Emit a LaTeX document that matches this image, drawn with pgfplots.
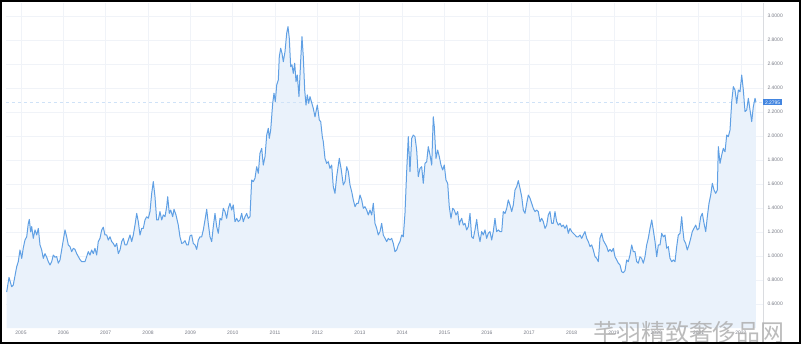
\documentclass[border=0pt]{standalone}
\usepackage{fontspec}
\setmainfont{Liberation Sans}
\newfontfamily\cjk{Noto Sans CJK SC}
\usepackage{pgfplots}
\usepackage{pgfplotstable}
\pgfplotsset{compat=1.18}
\definecolor{linec}{RGB}{96,160,228}
\definecolor{fillc}{RGB}{234,242,251}
\definecolor{gridc}{RGB}{240,243,248}
\definecolor{tickc}{RGB}{120,123,134}
\definecolor{tagc}{RGB}{66,133,224}
\definecolor{wmc}{RGB}{175,175,175}
\pgfplotstableread{
year value
2004.662 0.700
2004.717 0.822
2004.780 0.744
2004.818 0.758
2004.898 0.910
2004.936 0.953
2004.976 1.050
2005.017 0.980
2005.054 1.067
2005.094 1.133
2005.135 1.160
2005.172 1.270
2005.196 1.305
2005.229 1.200
2005.253 1.245
2005.290 1.147
2005.331 1.217
2005.371 1.175
2005.409 1.230
2005.449 1.092
2005.489 1.050
2005.527 0.980
2005.567 1.020
2005.607 0.990
2005.645 0.953
2005.685 0.925
2005.725 0.953
2005.763 1.008
2005.803 0.990
2005.843 0.995
2005.881 0.940
2005.921 0.967
2005.999 1.133
2006.039 1.217
2006.079 1.160
2006.117 1.092
2006.157 1.078
2006.197 1.036
2006.235 1.064
2006.275 1.055
2006.315 1.020
2006.393 0.970
2006.433 0.953
2006.511 0.953
2006.551 0.995
2006.589 1.036
2006.629 1.008
2006.669 1.050
2006.707 1.020
2006.747 1.064
2006.787 1.008
2006.825 1.120
2006.865 1.147
2006.906 1.217
2006.943 1.240
2006.983 1.175
2007.024 1.175
2007.061 1.133
2007.102 1.160
2007.142 1.120
2007.179 1.105
2007.220 1.078
2007.260 1.105
2007.298 1.020
2007.338 1.050
2007.378 1.120
2007.416 1.147
2007.456 1.092
2007.496 1.092
2007.534 1.133
2007.574 1.175
2007.614 1.120
2007.652 1.175
2007.692 1.258
2007.732 1.355
2007.770 1.286
2007.810 1.175
2007.850 1.230
2007.888 1.230
2007.928 1.300
2007.968 1.327
2008.006 1.314
2008.046 1.370
2008.086 1.522
2008.124 1.620
2008.164 1.494
2008.204 1.300
2008.242 1.300
2008.282 1.370
2008.322 1.300
2008.360 1.342
2008.400 1.327
2008.440 1.410
2008.464 1.494
2008.502 1.355
2008.535 1.383
2008.582 1.327
2008.613 1.389
2008.660 1.342
2008.714 1.258
2008.754 1.160
2008.795 1.105
2008.832 1.110
2008.873 1.128
2008.913 1.092
2008.950 1.092
2008.991 1.167
2009.031 1.175
2009.068 1.105
2009.109 1.092
2009.149 1.055
2009.187 1.133
2009.227 1.160
2009.267 1.160
2009.305 1.217
2009.345 1.300
2009.385 1.389
2009.423 1.270
2009.463 1.160
2009.503 1.120
2009.541 1.245
2009.581 1.355
2009.621 1.245
2009.659 1.189
2009.699 1.314
2009.739 1.300
2009.777 1.397
2009.817 1.370
2009.857 1.314
2009.895 1.397
2009.935 1.439
2009.975 1.383
2010.013 1.425
2010.053 1.286
2010.093 1.314
2010.131 1.286
2010.171 1.300
2010.211 1.355
2010.249 1.286
2010.289 1.327
2010.329 1.355
2010.367 1.314
2010.407 1.327
2010.447 1.633
2010.485 1.620
2010.525 1.647
2010.565 1.744
2010.603 1.689
2010.643 1.856
2010.684 1.897
2010.721 1.758
2010.762 1.828
2010.802 2.008
2010.839 2.064
2010.863 1.980
2010.896 2.050
2010.943 2.272
2010.974 2.356
2011.005 2.286
2011.038 2.425
2011.076 2.467
2011.099 2.661
2011.132 2.731
2011.163 2.689
2011.194 2.619
2011.234 2.703
2011.274 2.856
2011.305 2.911
2011.335 2.814
2011.368 2.578
2011.399 2.592
2011.430 2.522
2011.463 2.606
2011.494 2.453
2011.524 2.508
2011.564 2.328
2011.605 2.633
2011.635 2.828
2011.666 2.661
2011.699 2.383
2011.730 2.258
2011.760 2.342
2011.793 2.272
2011.824 2.328
2011.902 2.230
2011.942 2.160
2011.997 2.258
2012.044 2.133
2012.077 2.120
2012.115 1.994
2012.138 1.953
2012.178 1.814
2012.218 1.772
2012.256 1.786
2012.296 1.730
2012.336 1.758
2012.374 1.578
2012.414 1.522
2012.454 1.661
2012.516 1.814
2012.563 1.717
2012.610 1.592
2012.651 1.620
2012.691 1.744
2012.729 1.703
2012.769 1.592
2012.809 1.536
2012.847 1.467
2012.887 1.411
2012.927 1.439
2012.965 1.439
2013.005 1.508
2013.045 1.467
2013.083 1.397
2013.123 1.411
2013.163 1.383
2013.201 1.342
2013.241 1.383
2013.281 1.342
2013.319 1.439
2013.359 1.272
2013.399 1.230
2013.437 1.175
2013.477 1.203
2013.517 1.272
2013.555 1.175
2013.595 1.147
2013.635 1.120
2013.673 1.147
2013.713 1.133
2013.753 1.147
2013.791 1.105
2013.831 1.036
2013.871 1.050
2013.909 1.092
2013.949 1.120
2013.989 1.175
2014.027 1.160
2014.067 1.355
2014.107 1.703
2014.145 1.994
2014.185 1.703
2014.225 1.980
2014.263 2.008
2014.303 1.994
2014.343 1.883
2014.381 1.661
2014.421 1.730
2014.461 1.744
2014.499 1.606
2014.540 1.772
2014.580 1.786
2014.617 1.911
2014.658 1.842
2014.698 1.758
2014.735 2.160
2014.759 2.078
2014.799 1.814
2014.839 1.883
2014.877 1.828
2014.917 1.758
2014.957 1.717
2014.995 1.758
2015.035 1.633
2015.075 1.606
2015.113 1.411
2015.153 1.314
2015.193 1.397
2015.231 1.383
2015.271 1.342
2015.312 1.370
2015.350 1.258
2015.366 1.286
2015.406 1.314
2015.444 1.258
2015.484 1.272
2015.524 1.217
2015.562 1.245
2015.602 1.355
2015.642 1.160
2015.680 1.147
2015.720 1.217
2015.760 1.305
2015.798 1.189
2015.838 1.120
2015.878 1.203
2015.916 1.175
2015.956 1.217
2015.996 1.147
2016.034 1.189
2016.074 1.203
2016.114 1.133
2016.152 1.203
2016.192 1.314
2016.232 1.203
2016.270 1.217
2016.310 1.203
2016.351 1.203
2016.388 1.370
2016.429 1.355
2016.469 1.397
2016.506 1.467
2016.547 1.425
2016.587 1.370
2016.625 1.425
2016.665 1.550
2016.705 1.578
2016.743 1.628
2016.783 1.564
2016.823 1.494
2016.861 1.383
2016.901 1.355
2016.941 1.439
2016.979 1.508
2017.019 1.481
2017.059 1.439
2017.097 1.397
2017.137 1.370
2017.177 1.383
2017.215 1.370
2017.255 1.286
2017.295 1.314
2017.333 1.286
2017.373 1.230
2017.413 1.258
2017.451 1.342
2017.491 1.370
2017.531 1.272
2017.569 1.272
2017.609 1.370
2017.649 1.286
2017.687 1.258
2017.727 1.272
2017.767 1.245
2017.805 1.258
2017.845 1.230
2017.885 1.258
2017.923 1.189
2017.963 1.230
2018.003 1.203
2018.041 1.189
2018.081 1.175
2018.121 1.160
2018.159 1.160
2018.199 1.175
2018.239 1.147
2018.277 1.175
2018.317 1.203
2018.358 1.147
2018.396 1.120
2018.436 1.078
2018.476 1.092
2018.514 1.050
2018.554 0.994
2018.594 0.980
2018.632 0.953
2018.672 1.150
2018.712 1.189
2018.750 1.130
2018.790 1.105
2018.830 1.078
2018.868 1.036
2018.908 1.055
2018.948 1.036
2018.986 1.064
2019.026 0.994
2019.066 0.967
2019.104 0.940
2019.144 0.925
2019.184 0.869
2019.222 0.861
2019.262 0.878
2019.302 0.967
2019.340 0.953
2019.380 1.008
2019.420 1.092
2019.458 1.036
2019.498 1.036
2019.538 0.953
2019.576 0.940
2019.616 0.994
2019.656 0.980
2019.694 0.940
2019.734 0.994
2019.774 1.092
2019.812 1.147
2019.853 1.230
2019.893 1.300
2019.930 1.217
2019.971 1.120
2020.011 0.994
2020.049 1.092
2020.089 1.092
2020.129 1.189
2020.167 1.160
2020.207 1.175
2020.247 1.064
2020.285 1.078
2020.325 0.980
2020.365 0.953
2020.403 0.967
2020.443 0.953
2020.483 1.078
2020.521 1.175
2020.561 1.189
2020.601 1.327
2020.624 1.230
2020.655 1.133
2020.695 1.105
2020.733 1.050
2020.773 1.092
2020.814 1.147
2020.851 1.203
2020.891 1.230
2020.931 1.258
2020.969 1.217
2021.009 1.230
2021.050 1.327
2021.088 1.355
2021.128 1.272
2021.168 1.203
2021.206 1.327
2021.246 1.439
2021.286 1.508
2021.324 1.606
2021.364 1.550
2021.404 1.522
2021.442 1.550
2021.466 1.911
2021.506 1.772
2021.546 1.842
2021.584 1.897
2021.624 1.869
2021.664 2.008
2021.702 1.994
2021.742 2.050
2021.782 2.286
2021.820 2.411
2021.860 2.383
2021.900 2.272
2021.938 2.383
2021.978 2.369
2022.018 2.508
2022.056 2.383
2022.096 2.203
2022.136 2.217
2022.174 2.314
2022.214 2.217
2022.254 2.120
2022.292 2.244
2022.332 2.314
2022.355 2.2795
}\pricedata
\begin{document}
\begin{tikzpicture}[x=1bp,y=1bp]
\useasboundingbox (0,0) rectangle (802,345);
\begin{axis}[
  at={(6bp,17bp)}, anchor=south west,
  scale only axis, width=757bp, height=325bp,
  xmin=2004.646, xmax=2022.521,
  ymin=0.4, ymax=3.108,
  xtick={2005,2006,...,2022},
  ytick={0.6,0.8,...,3.01},
  yticklabel pos=right,
  tick style={draw=none},
  grid=major,
  major grid style={gridc, line width=0.6bp},
  axis line style={draw=none},
  /pgf/number format/assume math mode=true,
  xticklabel style={font=\fontsize{5}{6}\selectfont, text=tickc, /pgf/number format/1000 sep={}, yshift=0.5bp},
  yticklabel style={font=\fontsize{5}{6}\selectfont, text=tickc, /pgf/number format/.cd, fixed, fixed zerofill, precision=4, /tikz/.cd, xshift=1bp},
  clip mode=individual,
]
\addplot[draw=none, fill=fillc] table[x=year, y=value] {\pricedata} \closedcycle;
\addplot[dashed, draw=linec!30, line width=0.6bp] coordinates {(2004.646,2.2795) (2022.521,2.2795)};
\addplot[draw=linec, line width=1bp, line join=round] table[x=year, y=value] {\pricedata};
\draw[gridc!80!gray, line width=0.5bp] (rel axis cs:1,0) -- (rel axis cs:1,1);
\node[fill=tagc, text=white, anchor=west, inner xsep=1.8bp, inner ysep=1.3bp, font=\fontsize{5}{5.5}\selectfont] at (axis cs:2022.521,2.2795) {2.2795};
\end{axis}
\node[text=wmc, text opacity=0.85, font=\cjk\fontsize{24}{24}\selectfont, inner sep=0] at (689,13) {芊羽精致奢侈品网};
\draw[black, line width=2bp] (1,2.5) rectangle (800,344);
\end{tikzpicture}
\end{document}
